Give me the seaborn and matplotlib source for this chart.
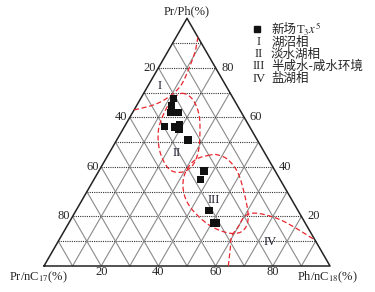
import numpy as np
import matplotlib
matplotlib.use("Agg")
import matplotlib.pyplot as plt
import seaborn as sns
import pandas as pd

sns.set_style("white")
plt.rcParams['font.family'] = ['Liberation Serif', 'Noto Sans CJK SC', 'DejaVu Sans']
plt.rcParams['mathtext.fontset'] = 'stix'

# samples (%): Pr/Ph (top), Ph/nC18 (bottom axis); Pr/nC17 = 100 - both
pr_ph = [67.6, 64.6, 61.9, 61.9, 56.4, 56.1, 57.2, 55.1, 50.8, 38.4, 35.0, 22.5, 17.4, 17.4]
ph_nc18 = [11.5, 12.3, 13.4, 16.0, 14.0, 17.8, 18.8, 19.7, 25.0, 36.7, 37.2, 46.5, 50.5, 51.7]

# facies boundaries as (Ph/nC18, Pr/Ph) pairs
zone_I = [(0, 63.0), (5.7, 65.0), (9.05, 67.7), (11.35, 72.4), (10.9, 79.1),
          (9.55, 86.5), (7.6, 92.4)]
zone_II = [(13.3, 69.7), (17.8, 67.7), (22.8, 62.3), (26.75, 55.6), (30.9, 46.1),
           (31.55, 40.1), (28.65, 37.8), (23.8, 39.4), (17.5, 46.1), (12.85, 54.2),
           (11.2, 61.0), (11.15, 67.0)]
zone_III = [(35.65, 44.8), (31.4, 42.8), (30.6, 37.4), (33.35, 30.7), (39.1, 23.9),
            (48.3, 17.2), (55.8, 13.85), (60.8, 13.2), (62.7, 15.2), (61.45, 19.9),
            (56.3, 28.0), (49.2, 37.4), (43.05, 42.8), (38.55, 44.8)]
zone_IV = [(64.45, 0), (61.85, 6.45), (59.7, 11.85), (60.0, 15.9), (60.2, 20.2),
           (63.75, 21.3), (71.75, 19.25), (79.2, 15.9), (89.5, 10.5)]

zone_names = ['I', 'II', 'III', 'IV']
zone_label_pos = [(4.2, 72.7), (23.6, 45.6), (45.9, 26.6), (74.1, 9.8)]
zone_desc = ['湖沼相', '淡水湖相', '半咸水-咸水环境', '盐湖相']
ticks = [20, 40, 60, 80]

H = np.sqrt(3) / 2
CJK = ['Noto Sans CJK SC', 'DejaVu Sans']


def proj(c, a):
    c = np.asarray(c, float)
    a = np.asarray(a, float)
    return c + a / 2, a * H


def smooth(pts, closed=False, n=14):
    p = np.column_stack(proj(*np.asarray(pts, float).T))
    if closed:
        p = np.vstack([p[-1], p, p[0], p[1]])
    else:
        p = np.vstack([p[0], p, p[-1]])
    t = np.linspace(0, 1, n, endpoint=False)[:, None]
    out = []
    for i in range(1, len(p) - 2):
        p0, p1, p2, p3 = p[i - 1], p[i], p[i + 1], p[i + 2]
        out.append(0.5 * (2 * p1 + (-p0 + p2) * t + (2 * p0 - 5 * p1 + 4 * p2 - p3) * t ** 2
                          + (-p0 + 3 * p1 - 3 * p2 + p3) * t ** 3))
    out.append(p[-2][None])
    return np.vstack(out)


fig = plt.figure(figsize=(3.75, 2.92), dpi=100)
ax = fig.add_axes([0, 0, 1, 1])
ax.set_xlim(-15.38, 115.73)
ax.set_ylim(-9.09, 93.0)
ax.axis('off')

# grid
for k in range(10, 100, 10):
    x, y = proj([0, 100 - k], [k, k])
    ax.plot(x, y, color='#333333', lw=0.8, ls=(0, (1, 1)), zorder=1)
    x, y = proj([k, k], [0, 100 - k])
    ax.plot(x, y, color='#8a8a8a', lw=0.8, zorder=1)
    x, y = proj([100 - k, 0], [0, 100 - k])
    ax.plot(x, y, color='#8a8a8a', lw=0.8, zorder=1)

x, y = proj([0, 100, 0, 0], [0, 0, 100, 0])
ax.plot(x, y, color='#222222', lw=1.1, zorder=2)

# facies boundaries
for pts, closed in [(zone_I, False), (zone_II, True), (zone_III, True), (zone_IV, False)]:
    s = smooth(pts, closed)
    ax.plot(s[:, 0], s[:, 1], color='#e8262e', lw=0.9, ls=(0, (4, 2.2)), zorder=3)

for name, (c, a) in zip(zone_names, zone_label_pos):
    x, y = proj(c, a)
    ax.text(x, y, name, fontsize=9, ha='center', va='center', color='#1a1a2a', zorder=4)

# samples
df = pd.DataFrame({'pr_ph': pr_ph, 'ph_nc18': ph_nc18})
df['x'], df['y'] = proj(df['ph_nc18'], df['pr_ph'])
sns.scatterplot(data=df, x='x', y='y', marker='s', s=28, color='#111111',
                edgecolor='none', ax=ax, zorder=5)
ax.set_xlabel('')
ax.set_ylabel('')

# tick labels
for k in ticks:
    x, y = proj(0, k)
    ax.text(x - 0.9, y, str(100 - k), fontsize=9, ha='right', va='center')
    x, y = proj(100 - k, k)
    ax.text(x + 2.0, y, str(k), fontsize=9, ha='left', va='center')
    x, y = proj(k, 0)
    ax.text(x, y - 2.0, str(k), fontsize=9, ha='center', va='center')

ax.text(50, 89.2, 'Pr/Ph(%)', fontsize=9, ha='center', va='center')
ax.text(-1.9, -3.85, 'Pr/nC$_{17}$(%)', fontsize=9, ha='center', va='center')
ax.text(99.1, -3.85, 'Ph/nC$_{18}$(%)', fontsize=9, ha='center', va='center')

# legend
ax.plot([257 / 375], [1 - 29 / 292], marker='s', ms=5, color='#111111',
        transform=ax.transAxes, ls='none')
t1 = ax.text(271 / 375, 1 - 29 / 292, '新场', fontsize=9, ha='left', va='center',
             transform=ax.transAxes, family=CJK)
ax.annotate('T$_3$$x^5$', xy=(1, 0.5), xycoords=t1, xytext=(0.3, 0),
            textcoords='offset points', fontsize=9, ha='left', va='center')
for i, (name, desc) in enumerate(zip(zone_names, zone_desc)):
    yy = 1 - (42 + 12.2 * i) / 292
    ax.text(259 / 375, yy, name, fontsize=9, ha='center', va='center', transform=ax.transAxes)
    ax.text(271 / 375, yy, desc, fontsize=9, ha='left', va='center', transform=ax.transAxes,
            family=CJK)

fig.savefig('out.png', dpi=100)
